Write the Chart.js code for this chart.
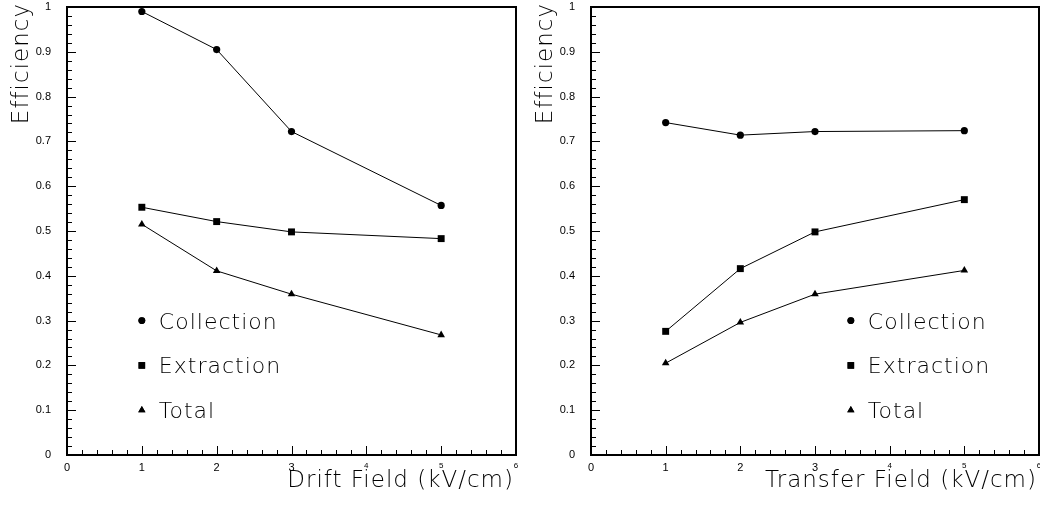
<!DOCTYPE html>
<html>
<head>
<meta charset="utf-8">
<title>Efficiency vs field</title>
<script src="https://cdn.jsdelivr.net/npm/chart.js@4.4.1/dist/chart.umd.min.js"></script>
<style>
    html, body { margin: 0; padding: 0; background: #fff; }
    #wrap { position: relative; width: 1040px; height: 506px; overflow: hidden; }
    .panel { position: absolute; top: 0; width: 520px; height: 506px; }
</style>
</head>
<body>
<div id="wrap">
    <div class="panel" style="left:0"><canvas id="driftChart" width="520" height="506"></canvas></div>
    <div class="panel" style="left:520px"><canvas id="transferChart" width="520" height="506"></canvas></div>
</div>
<script>
// Field settings (kV/cm) where efficiencies were measured
const fieldValues = [1, 2, 3, 5];

// Drift field scan
const driftCollection = [0.990, 0.905, 0.722, 0.557];
const driftExtraction = [0.553, 0.521, 0.498, 0.483];
const driftTotal = [0.515, 0.411, 0.359, 0.268];

// Transfer field scan
const transferCollection = [0.742, 0.714, 0.722, 0.724];
const transferExtraction = [0.276, 0.416, 0.498, 0.570];
const transferTotal = [0.205, 0.296, 0.359, 0.412];

const seriesNames = ['Collection', 'Extraction', 'Total'];
const seriesMarkers = ['circle', 'rect', 'triangle'];
const markerRadius = [3.6, 4.9, 4.4];

const xTickLabels = ['0', '1', '2', '3', '4', '5', '6'];
const yTickLabels = ['0', '0.1', '0.2', '0.3', '0.4', '0.5', '0.6', '0.7', '0.8', '0.9', '1'];

const textFont = "'DejaVu Sans', 'Liberation Sans', sans-serif";

// Frame plus inward-pointing major/minor ticks on the bottom and left axes
const frameTicks = {
    id: 'frameTicks',
    afterDatasetsDraw(chart) {
        const { ctx, chartArea: a, scales: { x, y } } = chart;
        ctx.save();
        ctx.strokeStyle = '#000';
        ctx.lineWidth = 1;
        for (let i = 0; i <= 30; i++) {
            const px = Math.round(x.getPixelForValue(i * 0.2)) + 0.5;
            const len = i % 5 === 0 ? 9 : 5;
            ctx.beginPath();
            ctx.moveTo(px, a.bottom);
            ctx.lineTo(px, a.bottom - len);
            ctx.stroke();
        }
        for (let i = 0; i <= 50; i++) {
            const py = Math.round(y.getPixelForValue(i * 0.02)) + 0.5;
            const len = i % 5 === 0 ? 9 : 5;
            ctx.beginPath();
            ctx.moveTo(a.left, py);
            ctx.lineTo(a.left + len, py);
            ctx.stroke();
        }
        ctx.lineWidth = 2;
        ctx.strokeRect(a.left, a.top, a.right - a.left, a.bottom - a.top);
        ctx.restore();
    }
};

// Axis titles and the marker legend inside the plot
const panelText = {
    id: 'panelText',
    afterDraw(chart, args, opts) {
        const { ctx, chartArea: a, scales: { x, y } } = chart;
        ctx.save();
        ctx.fillStyle = '#000';
        ctx.letterSpacing = '1px';

        ctx.font = '200 23px ' + textFont;
        ctx.textAlign = 'right';
        ctx.textBaseline = 'alphabetic';
        ctx.fillText(opts.xTitle, a.right - 2, 487);

        ctx.save();
        ctx.translate(a.left - 39, a.top - 4);
        ctx.rotate(-Math.PI / 2);
        ctx.font = '200 23px ' + textFont;
        ctx.fillText(opts.yTitle, 0, 0);
        ctx.restore();

        ctx.font = '200 22px ' + textFont;
        ctx.textAlign = 'left';
        seriesNames.forEach((name, i) => {
            const mx = x.getPixelForValue(opts.legendX);
            const my = y.getPixelForValue(opts.legendY[i]);
            Chart.helpers.drawPoint(ctx, {
                pointStyle: seriesMarkers[i],
                radius: markerRadius[i] * 0.95,
                borderWidth: 0
            }, mx, my);
            ctx.fill();
            ctx.fillText(name, mx + 17, my + 8);
        });
        ctx.restore();
    }
};

function makeDataset(label, values, i) {
    return {
        label: label,
        data: fieldValues.map((f, k) => ({ x: f, y: values[k] })),
        borderColor: '#000',
        borderWidth: 1,
        backgroundColor: '#000',
        pointStyle: seriesMarkers[i],
        pointRadius: markerRadius[i],
        pointBorderWidth: 0,
        pointBackgroundColor: '#000',
        tension: 0
    };
}

// Drop the extra room Chart.js keeps for the outermost tick labels
function noEdgePadding(s) {
    s.paddingLeft = 0;
    s.paddingRight = 0;
    s.paddingTop = 0;
    s.paddingBottom = 0;
}

function createPanel(id, series, xTitle, legendX, yWidth, rightPad) {
    const ctx = document.getElementById(id);
    return new Chart(ctx, {
        type: 'line',
        data: {
            datasets: series.map((vals, i) => makeDataset(seriesNames[i], vals, i))
        },
        options: {
            responsive: false,
            animation: false,
            layout: {
                autoPadding: false,
                padding: { top: 7, right: rightPad, bottom: 0, left: 0 }
            },
            plugins: {
                legend: { display: false },
                tooltip: { enabled: false },
                panelText: {
                    xTitle: xTitle,
                    yTitle: 'Efficiency',
                    legendX: legendX,
                    legendY: [0.3, 0.2, 0.1]
                }
            },
            scales: {
                x: {
                    type: 'linear',
                    min: 0,
                    max: 6,
                    afterFit: s => { s.height = 51; noEdgePadding(s); },
                    afterBuildTicks: s => { s.ticks = xTickLabels.map(v => ({ value: Number(v) })); },
                    grid: { display: false, drawTicks: false },
                    border: { display: false },
                    ticks: {
                        color: '#000',
                        padding: 6,
                        maxRotation: 0,
                        callback: (v, i) => xTickLabels[i],
                        font: c => ({
                            family: "'Liberation Sans', Arial, sans-serif",
                            size: c.tick && c.tick.value >= 4 ? 8 : 11
                        })
                    }
                },
                y: {
                    type: 'linear',
                    min: 0,
                    max: 1,
                    afterFit: s => { s.width = yWidth; noEdgePadding(s); },
                    afterBuildTicks: s => { s.ticks = yTickLabels.map(v => ({ value: Number(v) })); },
                    grid: { display: false, drawTicks: false },
                    border: { display: false },
                    ticks: {
                        color: '#000',
                        padding: 16,
                        callback: (v, i) => yTickLabels[i],
                        font: { family: "'Liberation Sans', Arial, sans-serif", size: 11 }
                    }
                }
            }
        },
        plugins: [frameTicks, panelText]
    });
}

createPanel('driftChart', [driftCollection, driftExtraction, driftTotal],
    'Drift Field (kV/cm)', 1, 67, 4);
createPanel('transferChart', [transferCollection, transferExtraction, transferTotal],
    'Transfer Field (kV/cm)', 3.48, 71, 1);
</script>
</body>
</html>
